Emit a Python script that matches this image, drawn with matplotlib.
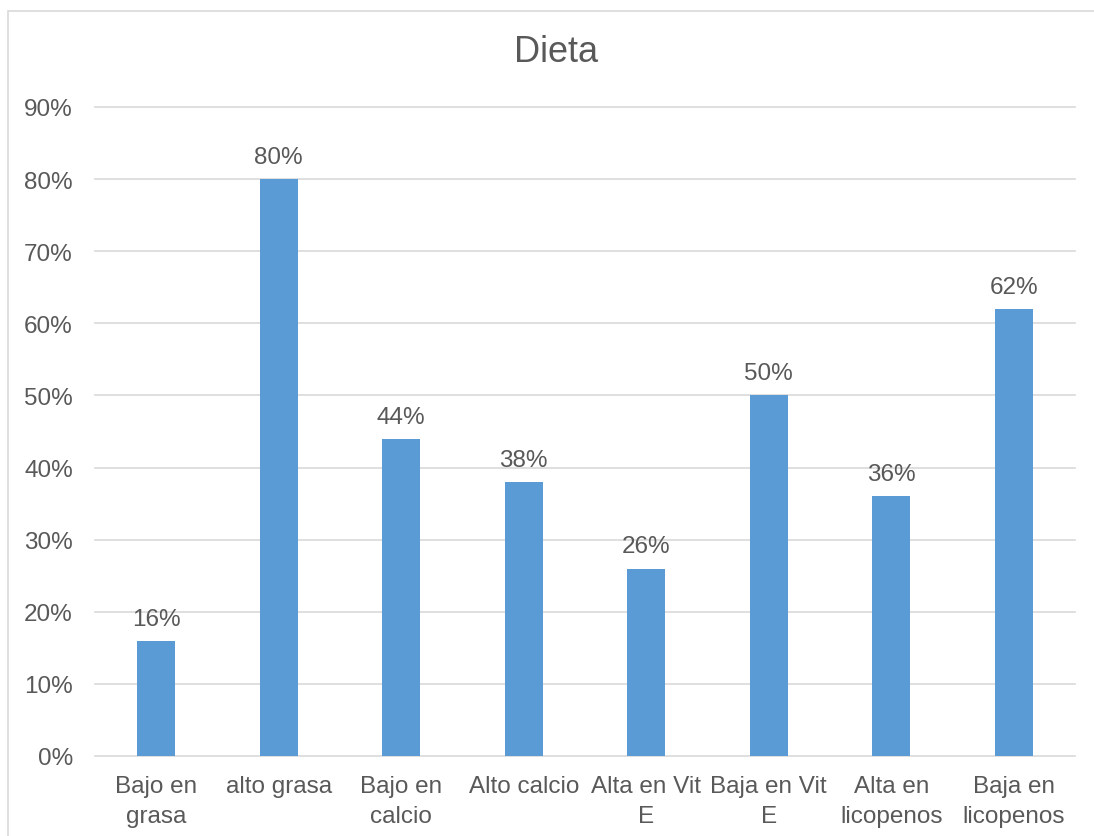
import matplotlib
matplotlib.use("Agg")
import matplotlib.pyplot as plt
from matplotlib.patches import Rectangle
from matplotlib.ticker import PercentFormatter

categories = ["Bajo en\ngrasa", "alto grasa", "Bajo en\ncalcio", "Alto calcio",
              "Alta en Vit\nE", "Baja en Vit\nE", "Alta en\nlicopenos", "Baja en\nlicopenos"]
values = [0.16, 0.80, 0.44, 0.38, 0.26, 0.50, 0.36, 0.62]
yticks = [0.0, 0.1, 0.2, 0.3, 0.4, 0.5, 0.6, 0.7, 0.8, 0.9]

BAR = "#5B9BD5"
TEXT = "#595959"
GRID = "#D9D9D9"

plt.rcParams["font.family"] = ["Liberation Sans", "DejaVu Sans"]

fig = plt.figure(figsize=(10.94, 8.37), dpi=100)
fig.patch.set_facecolor("white")

# chart frame
fig.patches.append(Rectangle((8 / 1094, -0.05), 1.1, 1 - 12 / 837 + 0.05,
                             transform=fig.transFigure, fill=False,
                             edgecolor=GRID, linewidth=1.2, zorder=0))

ax = fig.add_axes([95 / 1094, 1 - 757 / 837, 980 / 1094, (757 - 108) / 837])
x = list(range(len(categories)))
ax.bar(x, values, width=0.31, color=BAR, zorder=3)

ax.set_xlim(-0.5, len(categories) - 0.5)
ax.set_ylim(0, 0.9)
ax.set_yticks(yticks)
ax.yaxis.set_major_formatter(PercentFormatter(xmax=1, decimals=0))
ax.set_xticks(x)
ax.set_xticklabels(categories)

for yv in yticks:
    ax.axhline(yv, color=GRID, linewidth=1.2, zorder=1, clip_on=False)

for s in ax.spines.values():
    s.set_visible(False)
ax.tick_params(axis="both", length=0, labelsize=17.5, labelcolor=TEXT)
ax.tick_params(axis="y", pad=16)
ax.tick_params(axis="x", pad=14)
for lbl in ax.get_xticklabels():
    lbl.set_linespacing(1.45)

for xi, v in zip(x, values):
    ax.annotate(f"{round(v * 100)}%", (xi, v), xytext=(0, 8), textcoords="offset points",
                ha="center", va="bottom", fontsize=17.5, color=TEXT)

fig.text(556 / 1094, 1 - 53 / 837, "Dieta", ha="center", va="center",
         fontsize=26, color=TEXT)

fig.savefig("out.png", dpi=100, facecolor="white")
